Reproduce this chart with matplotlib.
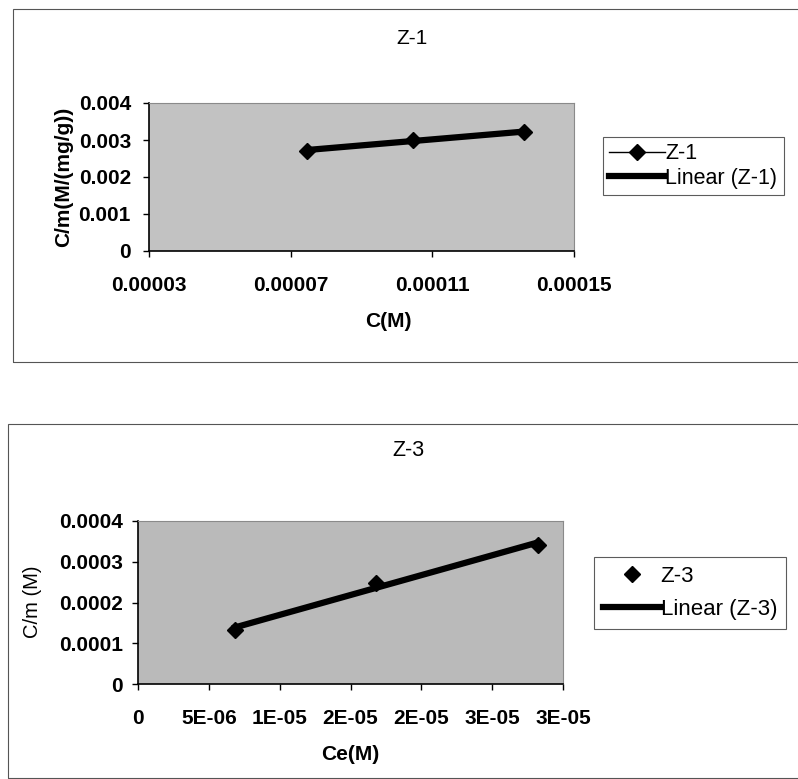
"""Two Excel-style isotherm charts (Z-1 and Z-3) with linear trendlines."""
import matplotlib
matplotlib.use("Agg")
import matplotlib.pyplot as plt
from matplotlib.patches import Rectangle
import numpy as np

plt.rcParams["font.family"] = ["Liberation Sans", "DejaVu Sans"]

# --- data ---
z1_c = [0.0000746, 0.0001045, 0.000136]
z1_cm = [0.00271, 0.00301, 0.00321]
z1_xticks = [0.00003, 0.00007, 0.00011, 0.00015]
z1_xlabels = ["0.00003", "0.00007", "0.00011", "0.00015"]
z1_yticks = [0, 0.001, 0.002, 0.003, 0.004]
z1_ylabels = ["0", "0.001", "0.002", "0.003", "0.004"]

z3_ce = [0.00000686, 0.0000168, 0.0000282]
z3_cm = [0.000132, 0.000249, 0.000341]
z3_xticks = [0, 0.000005, 0.00001, 0.000015, 0.00002, 0.000025, 0.00003]
z3_xlabels = ["0", "5E-06", "1E-05", "2E-05", "2E-05", "3E-05", "3E-05"]
z3_yticks = [0, 0.0001, 0.0002, 0.0003, 0.0004]
z3_ylabels = ["0", "0.0001", "0.0002", "0.0003", "0.0004"]

W, H = 798, 779
fig = plt.figure(figsize=(W / 100, H / 100), dpi=100)


def fx(px):
    return px / W


def fy(py):
    return 1 - py / H


def style_axes(ax, face, ypad):
    ax.set_facecolor(face)
    for side in ("top", "right"):
        ax.spines[side].set_color("#8a8a8a")
        ax.spines[side].set_linewidth(0.8)
    for side in ("left", "bottom"):
        ax.spines[side].set_color("black")
        ax.spines[side].set_linewidth(1.2)
    ax.tick_params(axis="both", direction="out", length=4, width=1,
                   labelsize=15)
    ax.tick_params(axis="x", pad=14)
    ax.tick_params(axis="y", pad=ypad)
    for lab in ax.get_xticklabels() + ax.get_yticklabels():
        lab.set_fontweight("bold")


def trend(x, y):
    k, b = np.polyfit(x, y, 1)
    xs = np.array([min(x), max(x)])
    return xs, k * xs + b


# chart frames
fig.patches.append(Rectangle((fx(13), fy(362)), fx(800) - fx(13), fy(9) - fy(362),
                             transform=fig.transFigure, fill=False,
                             edgecolor="#555555", lw=0.8))
fig.patches.append(Rectangle((fx(8), fy(778)), fx(800) - fx(8), fy(424) - fy(778),
                             transform=fig.transFigure, fill=False,
                             edgecolor="#555555", lw=0.8))

# --- Z-1 ---
ax1 = fig.add_axes([fx(149), fy(251), fx(574) - fx(149), fy(103) - fy(251)])
ax1.plot(z1_c, z1_cm, color="black", lw=1, marker="D", markersize=8.5,
         label="Z-1", zorder=3)
tx, ty = trend(z1_c, z1_cm)
ax1.plot(tx, ty, color="black", lw=4.5, label="Linear (Z-1)", zorder=2)
ax1.set_xlim(0.00003, 0.00015)
ax1.set_ylim(0, 0.004)
ax1.set_xticks(z1_xticks, z1_xlabels)
ax1.set_yticks(z1_yticks, z1_ylabels)
style_axes(ax1, "#c2c2c2", 9)
leg1 = ax1.legend(loc="upper left", bbox_to_anchor=(fx(603), fy(137)),
                  bbox_transform=fig.transFigure, fontsize=15.5,
                  handlelength=2.6, handletextpad=0.0, labelspacing=0.15,
                  borderpad=0.3, borderaxespad=0, fancybox=False)
leg1.get_frame().set_edgecolor("#333333")
leg1.get_frame().set_linewidth(0.8)

fig.text(fx(412), fy(38), "Z-1", ha="center", va="center", fontsize=15)
fig.text(fx(388), fy(322), "C(M)", ha="center", va="center", fontsize=15,
         fontweight="bold")
fig.text(fx(64), fy(177), "C/m(M/(mg/g))", ha="center", va="center",
         rotation=90, fontsize=15, fontweight="bold")

# --- Z-3 ---
ax2 = fig.add_axes([fx(138), fy(684), fx(563) - fx(138), fy(521) - fy(684)])
ax2.plot(z3_ce, z3_cm, linestyle="none", color="black", marker="D",
         markersize=8.5, label="Z-3", zorder=3)
tx, ty = trend(z3_ce, z3_cm)
ax2.plot(tx, ty, color="black", lw=4.5, label="Linear (Z-3)", zorder=2)
ax2.set_xlim(0, 0.00003)
ax2.set_ylim(0, 0.0004)
ax2.set_xticks(z3_xticks, z3_xlabels)
ax2.set_yticks(z3_yticks, z3_ylabels)
style_axes(ax2, "#bababa", 7)
leg2 = ax2.legend(loc="upper left", bbox_to_anchor=(fx(594), fy(557)),
                  bbox_transform=fig.transFigure, fontsize=16,
                  handlelength=2.6, handletextpad=0.0, labelspacing=0.55,
                  borderpad=0.4, borderaxespad=0, fancybox=False)
leg2.get_frame().set_edgecolor("#333333")
leg2.get_frame().set_linewidth(0.8)

fig.text(fx(408), fy(451), "Z-3", ha="center", va="center", fontsize=15.5)
fig.text(fx(350), fy(755), "Ce(M)", ha="center", va="center", fontsize=15,
         fontweight="bold")
fig.text(fx(33), fy(602), "C/m (M)", ha="center", va="center", rotation=90,
         fontsize=14.5)

fig.savefig("out.png", dpi=100)
